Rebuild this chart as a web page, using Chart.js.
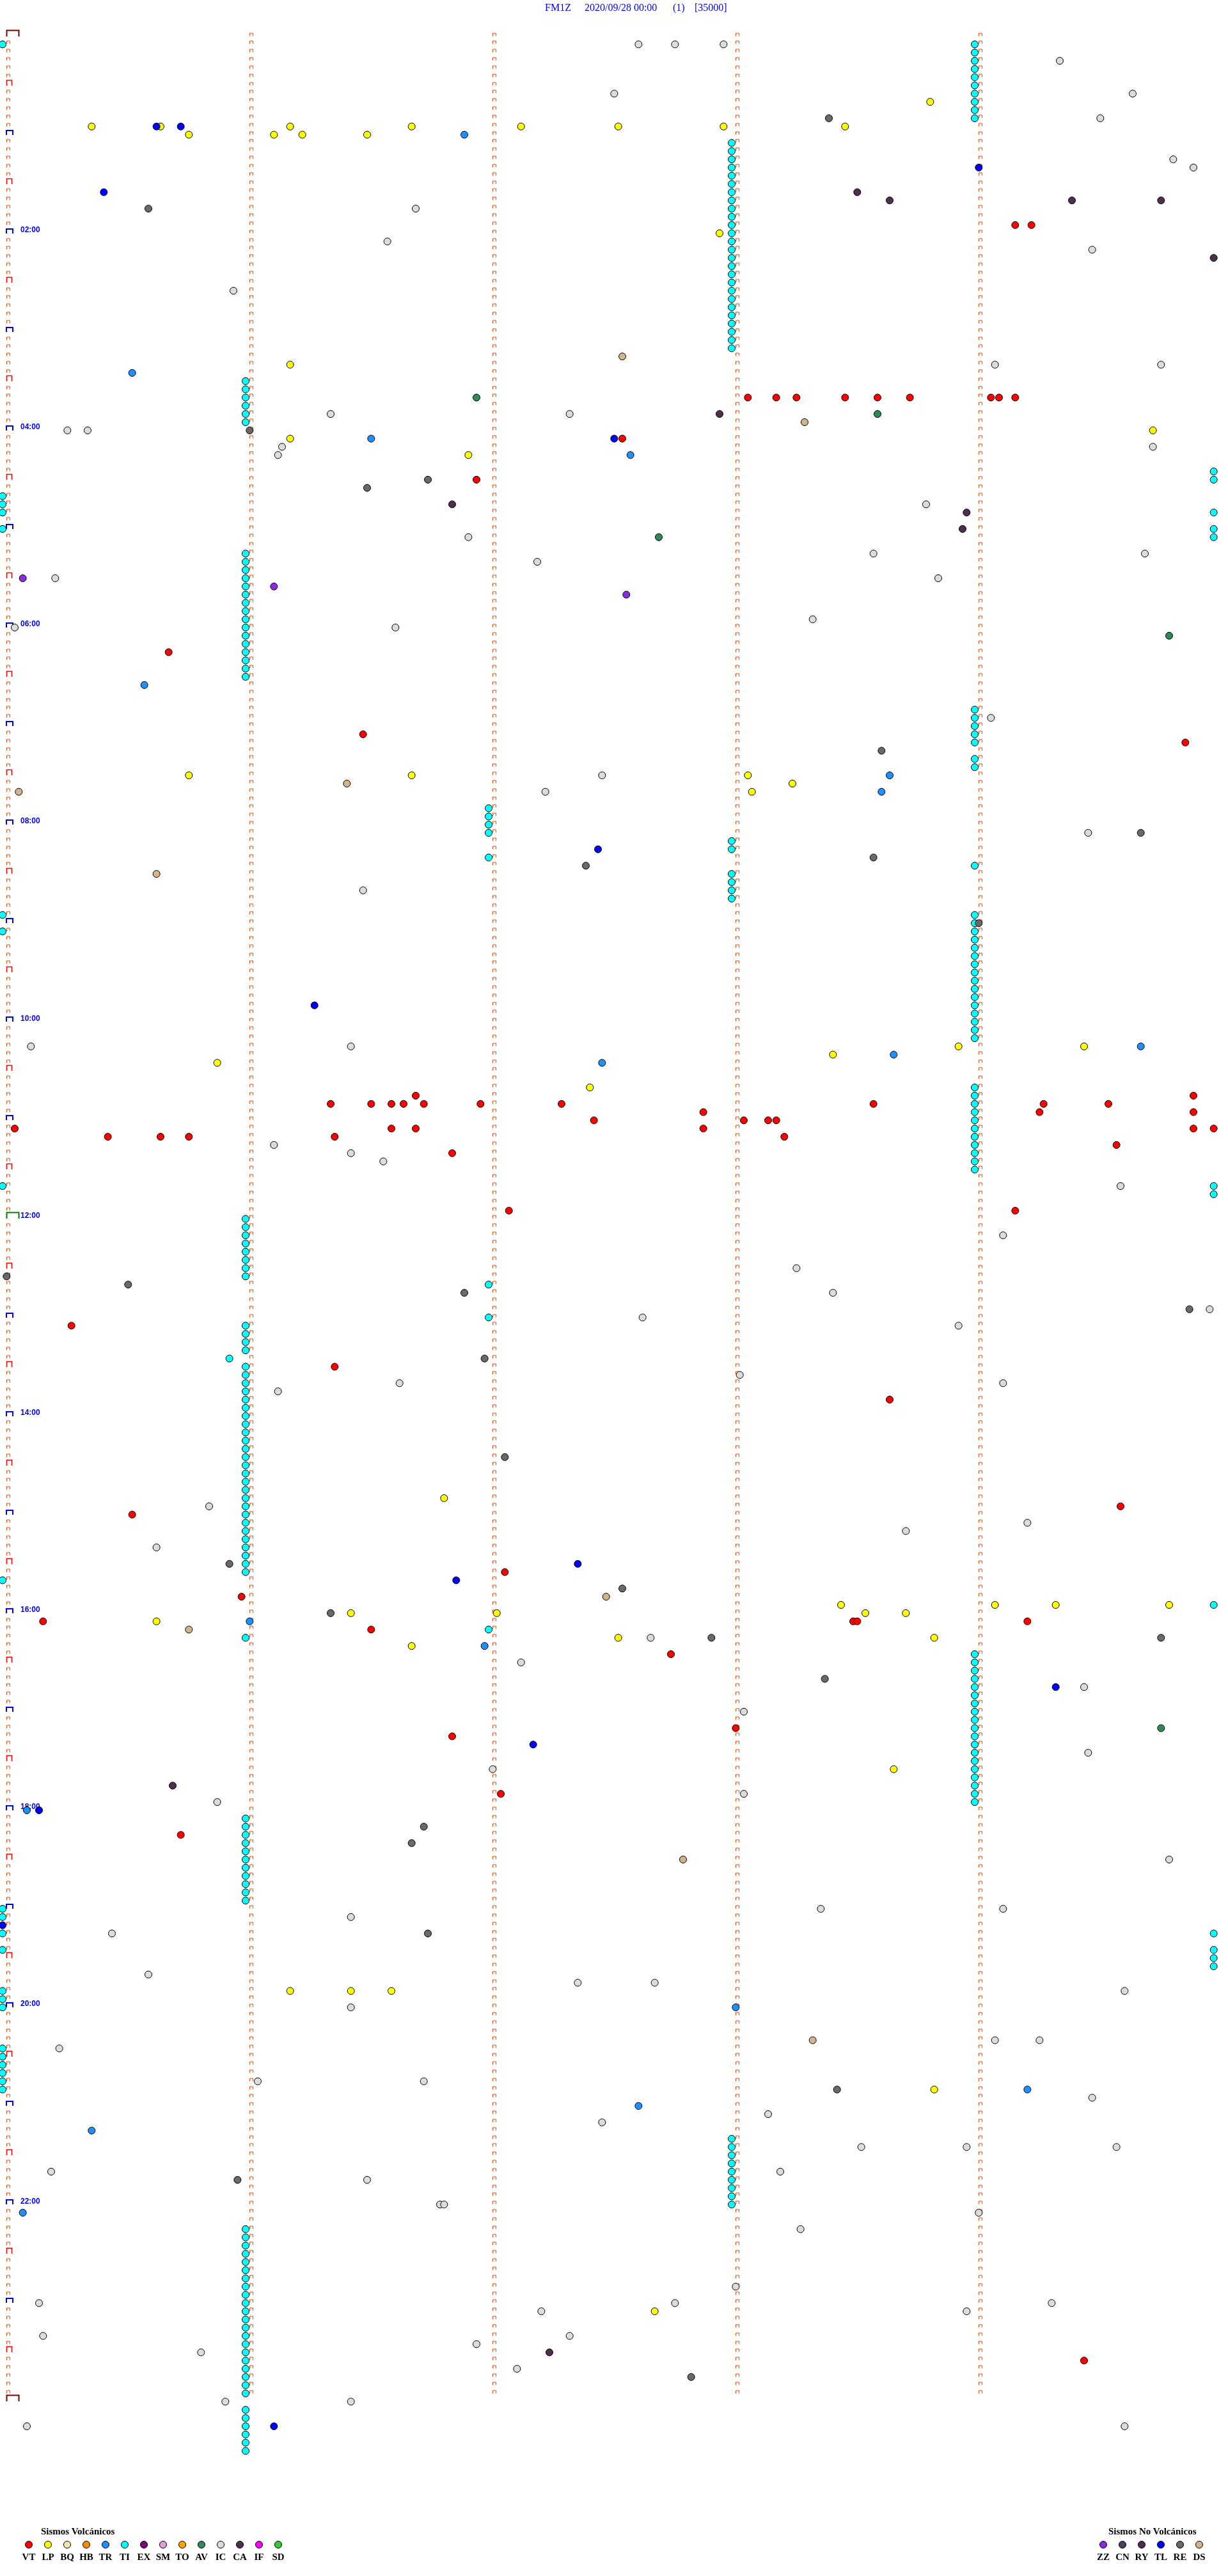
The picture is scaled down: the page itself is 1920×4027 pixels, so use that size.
<!DOCTYPE html>
<html lang="es">
<head>
<meta charset="utf-8">
<title>FM1Z 2020/09/28</title>
<script src="https://cdn.jsdelivr.net/npm/chart.js@4.4.1/dist/chart.umd.min.js"></script>
<style>
    html, body { margin: 0; padding: 0; background: #ffffff; }
    #wrap { position: relative; width: 1920px; height: 4027px; overflow: hidden; }
    #chart_events { position: absolute; left: 0; top: 0; }
    .title_part { position: absolute; top: 2px; font: 16px "Liberation Serif", serif; color: #0000ff; line-height: 20px; white-space: pre; }
    .legend_title { position: absolute; top: 3947px; font: bold 15px "Liberation Serif", serif; color: #000; line-height: 20px; white-space: nowrap; }
    .legend_dot { position: absolute; top: 3972px; width: 12px; height: 12px; box-sizing: border-box; border: 1px solid #000; border-radius: 50%; }
    .legend_code { position: absolute; top: 3988px; width: 40px; text-align: center; font: bold 15px "Liberation Serif", serif; color: #000; line-height: 18px; }
</style>
</head>
<body>
<div id="wrap">
    <canvas id="chart_events" width="1920" height="4027"></canvas>
    <span class="title_part" style="left:852px">FM1Z</span>
    <span class="title_part" style="left:914px">2020/09/28 00:00</span>
    <span class="title_part" style="left:1052px">(1)</span>
    <span class="title_part" style="left:1086px">[35000]</span>
    <div class="legend_title" style="left:64px">Sismos Volcánicos</div>
    <div class="legend_title" style="left:1733px">Sismos No Volcánicos</div>
    <div id="legend_items"></div>
</div>
<script>
// event times (HH:MM:SS), one helicorder line = 5 minutes
const eventsVT = ['01:59:10','01:59:14','03:43:04','03:43:11','03:43:16','03:43:28','03:43:36','03:43:44','03:44:04','03:44:06','03:44:10',
    '04:07:33','04:31:57','06:15:41','07:06:29','07:14:52','10:46:42','10:49:54',
    '10:51:21','10:51:31','10:51:36','10:51:39','10:51:44','10:51:58','10:52:18','10:53:35','10:54:17','10:54:33',
    '10:57:53','10:59:16','10:59:54','11:02:26','11:03:03','11:03:09','11:03:11',
    '11:05:03','11:06:36','11:06:42','11:07:53','11:09:54','11:09:59','11:10:26','11:10:39','11:10:46','11:11:22','11:13:13',
    '11:19:35','11:21:51','11:57:05','11:59:10','13:05:17','13:31:22','13:53:39','14:59:36','15:00:32','15:37:04','15:50:59',
    '16:05:10','16:08:30','16:08:31','16:09:13','16:11:31','16:27:45','17:13:01','17:16:51','17:52:03','18:15:44','23:39:27'];
const eventsLP = ['00:43:49','00:55:22','00:55:39','00:56:11','00:56:41','00:57:08','00:57:32','00:57:58','00:58:28',
    '01:00:46','01:01:07','01:01:14','01:01:30','02:02:57','03:21:11','04:04:44','04:06:11','04:16:55',
    '07:30:46','07:31:41','07:33:04','07:38:15','07:43:05','10:18:56','10:19:27','10:23:25','10:25:53','10:42:25',
    '14:51:49','15:58:27','15:59:05','15:59:20','15:59:48','16:01:26','16:02:02','16:03:33','16:03:43','16:05:38',
    '16:17:32','16:18:50','16:21:41','17:38:40','19:51:11','19:51:26','19:51:36','20:53:50','23:07:41'];
const eventsTR = ['01:01:54','03:25:32','04:06:31','04:17:35','06:35:35','07:33:39','07:43:37','10:19:41','10:23:40','10:27:28',
    '16:06:01','16:21:59','18:00:06','20:03:01','20:54:13','21:02:37','21:15:22','22:05:05'];
const eventsTI = ['00:05:00','00:09:00','00:14:00','00:19:00','00:24:00','00:29:00','00:34:00','00:39:00','00:44:00','00:49:00','00:54:00',
    '01:08:00','01:13:00','01:18:00','01:23:00','01:28:00','01:33:00','01:38:00','01:43:00','01:48:00','01:53:00','01:58:00',
    '02:03:00','02:08:00','02:13:00','02:18:00','02:23:00','02:28:00','02:33:00','02:38:00','02:43:00','02:48:00','02:53:00','02:58:00',
    '03:03:00','03:08:00','03:13:00','03:31:00','03:36:00','03:41:00','03:46:00','03:51:00','03:56:00',
    '04:29:59','04:34:59','04:40:00','04:45:00','04:50:00','04:54:59','05:00:00','05:04:59','05:09:59',
    '05:16:00','05:21:00','05:26:00','05:31:00','05:36:00','05:41:00','05:46:00','05:51:00','05:56:00',
    '06:01:00','06:06:00','06:11:00','06:16:00','06:21:00','06:26:00','06:31:00',
    '06:54:00','06:59:00','07:04:00','07:09:00','07:14:00','07:24:00','07:29:00',
    '07:52:00','07:57:00','08:02:00','08:07:00','08:22:00','08:13:00','08:18:00','08:33:00','08:38:00','08:43:00','08:48:00','08:29:00',
    '08:55:00','09:05:00','08:59:00','09:04:00','09:09:00','09:14:00','09:19:00','09:24:00','09:29:00','09:34:00','09:39:00',
    '09:44:00','09:49:00','09:54:00','09:59:00','10:04:00','10:09:00','10:14:00',
    '10:44:00','10:49:00','10:54:00','10:59:00','11:04:00','11:09:00','11:14:00','11:19:00','11:24:00','11:29:00','11:34:00',
    '11:40:00','11:44:59','11:49:59','12:01:00','12:06:00','12:11:00','12:16:00','12:21:00','12:26:00','12:31:00','12:36:00',
    '12:42:00','13:02:00','13:06:00','13:11:00','13:16:00','13:21:00','13:25:56',
    '13:31:00','13:36:00','13:41:00','13:46:00','13:51:00','13:56:00','14:01:00','14:06:00','14:11:00','14:16:00','14:21:00',
    '14:26:00','14:31:00','14:36:00','14:41:00','14:46:00','14:51:00','14:56:00','15:01:00','15:06:00','15:11:00','15:16:00',
    '15:21:00','15:26:00','15:31:00','15:36:00','15:40:00','15:59:59','16:12:00','16:16:00',
    '16:29:00','16:34:00','16:39:00','16:44:00','16:49:00','16:54:00','16:59:00','17:04:00','17:09:00','17:14:00',
    '17:19:00','17:24:00','17:29:00','17:34:00','17:39:00','17:44:00','17:49:00','17:54:00','17:59:00',
    '18:06:00','18:11:00','18:16:00','18:21:00','18:26:00','18:31:00','18:36:00','18:41:00','18:46:00','18:51:00','18:56:00',
    '19:00:00','19:05:00','19:15:00','19:25:00','19:19:59','19:29:59','19:34:59','19:39:59','19:50:00','19:55:00','20:00:00',
    '20:25:00','20:30:00','20:35:00','20:40:00','20:45:00','20:50:00',
    '21:23:00','21:28:00','21:33:00','21:38:00','21:43:00','21:48:00','21:53:00','21:58:00','22:03:00',
    '22:16:00','22:21:00','22:26:00','22:31:00','22:36:00','22:41:00','22:46:00','22:51:00','22:56:00','23:01:00','23:06:00',
    '23:11:00','23:16:00','23:21:00','23:26:00','23:31:00','23:36:00','23:41:00','23:46:00','23:51:00','23:56:00',
    '24:06:00','24:11:00','24:16:00','24:21:00','24:26:00','24:31:00'];
const eventsAV = ['03:41:57','03:53:36','05:07:42','06:09:48','17:14:46'];
const eventsIC = ['00:07:37','00:07:46','00:07:58','00:19:21','00:37:31','00:39:39','00:54:31',
    '01:19:49','01:24:54','01:46:42','02:06:35','02:14:29','02:35:57','03:24:05','03:24:46','03:51:21','03:52:20',
    '04:00:16','04:00:21','04:11:09','04:14:44','04:16:08','04:48:48','05:06:55','05:18:35','05:19:42','05:22:12',
    '05:30:13','05:33:51','05:58:20','06:00:03','06:01:37','06:59:04','07:32:28','07:42:14','08:09:28','08:41:29',
    '10:15:07','10:16:26','11:16:07','11:21:26','11:26:34','11:44:36','12:14:07','12:33:16','12:48:25','12:59:58',
    '13:02:38','13:08:56','13:38:02','13:41:38','13:44:07','13:46:08','14:55:51','15:09:13','15:13:43','15:20:38',
    '16:17:40','16:32:08','16:49:27','17:03:03','17:29:28','17:37:01','17:53:03','17:55:53','18:34:48',
    '19:03:22','19:04:07','19:06:26','19:15:27','19:40:36','19:47:22','19:47:41','19:54:37',
    '20:01:26','20:24:05','20:24:16','20:25:14','20:46:03','20:46:44','20:59:29','21:08:09','21:12:28',
    '21:28:32','21:28:58','21:29:35','21:40:12','21:43:12','21:46:30','22:01:48','22:01:49','22:09:01','22:18:17','22:53:01',
    '23:00:09','23:02:46','23:04:19','23:07:13','23:08:58','23:20:10','23:22:20','23:26:57','23:30:49','23:42:07',
    '24:00:55','24:01:26','24:15:06','24:19:37'];
const eventsCA = ['01:38:31','01:43:39','01:44:24','01:44:46','02:19:59','03:52:57','04:46:51','04:53:58','05:03:57','17:45:42','23:32:15'];
const eventsZZ = ['05:30:05','05:36:07','05:42:34'];
const eventsTL = ['00:55:38','00:55:44','01:24:01','01:35:25','04:07:31','08:17:27','09:51:17','15:32:22','15:41:52',
    '16:49:20','17:22:11','18:00:09','19:10:00','24:16:07'];
const eventsRE = ['00:53:24','01:45:36','04:01:01','04:31:45','04:36:30','07:18:37','08:09:41','08:23:35','08:27:24','09:04:01',
    '12:35:01','12:40:31','12:46:54','12:59:53','13:26:59','14:27:04','15:30:56','15:47:33','16:01:21','16:17:55','16:19:46',
    '16:43:23','18:11:44','18:21:41','19:16:45','20:53:26','21:45:58','23:47:50'];
const eventsDS = ['03:17:33','03:58:18','07:36:25','07:40:04','08:30:38','15:52:29','16:10:46','18:32:48','20:23:20'];

const hourLabels = ['02:00','04:00','06:00','08:00','10:00','12:00','14:00','16:00','18:00','20:00','22:00'];
const volcanicCodes = ['VT','LP','BQ','HB','TR','TI','EX','SM','TO','AV','IC','CA','IF','SD'];
const nonVolcanicCodes = ['ZZ','CN','RY','TL','RE','DS'];

const typeColors = {
    VT: '#ff0000', LP: '#ffff00', BQ: '#eee8aa', HB: '#ff8c00', TR: '#1e90ff', TI: '#00ffff', EX: '#800080',
    SM: '#dda0dd', TO: '#ffa500', AV: '#2e8b57', IC: '#dcdcdc', CA: '#4e2f4e', IF: '#ff00ff', SD: '#32cd32',
    ZZ: '#8a2be2', CN: '#4a3f5c', RY: '#4b2d50', TL: '#0000ff', RE: '#696969', DS: '#d2b48c'
};

const seriesList = [['VT', eventsVT], ['LP', eventsLP], ['TR', eventsTR], ['TI', eventsTI], ['AV', eventsAV], ['IC', eventsIC],
    ['CA', eventsCA], ['ZZ', eventsZZ], ['TL', eventsTL], ['RE', eventsRE], ['DS', eventsDS]];

const lineSeconds = 300;
const rowPx = 12.84;
const firstRowPx = 56.5;
const canvasHeight = 4027;

function toPoint(t) {
    const parts = t.split(':').map(Number);
    const sec = parts[0] * 3600 + parts[1] * 60 + (parts[2] || 0);
    const row = Math.floor(sec / lineSeconds);
    return { x: (sec - row * lineSeconds) / 60, y: row };
}

const hourRows = hourLabels.map(l => toPoint(l).y);
const lastRow = toPoint('24:00').y;

function drawMark(ctx, x, y, w, h, lw, color) {
    ctx.strokeStyle = color;
    ctx.lineWidth = lw;
    ctx.beginPath();
    ctx.moveTo(x, y);
    ctx.lineTo(x, y - h);
    ctx.lineTo(x + w, y - h);
    ctx.lineTo(x + w, y);
    ctx.stroke();
}

// minute marks on every line, hour labels on the left
const lineMarks = {
    id: 'lineMarks',
    beforeDatasetsDraw(chart) {
        const ctx = chart.ctx;
        const xs = chart.scales.x;
        const ys = chart.scales.y;
        ctx.save();
        for (let r = 0; r <= lastRow; r++) {
            const yc = Math.round(ys.getPixelForValue(r));
            for (let c = 0; c < 5; c++) {
                const px = Math.round(xs.getPixelForValue(c));
                if (c === 0 && r % 6 === 0) {
                    if (r % 144 === 0) {
                        drawMark(ctx, px + 6.5, yc, 19, 9.5, 2, r === 144 ? '#008000' : '#800000');
                    } else if (r % 12 === 0) {
                        drawMark(ctx, px + 6, yc, 10, 7, 2, '#0000ff');
                    } else {
                        drawMark(ctx, px + 6.5, yc, 8, 8.5, 1.5, '#ff0000');
                    }
                } else if (r < lastRow) {
                    drawMark(ctx, px + 6.5, yc - 0.5, 5, 4.5, 1, '#ff4500');
                }
            }
        }
        ctx.font = 'bold 12px "Liberation Sans", Arial, sans-serif';
        ctx.fillStyle = '#0000ff';
        ctx.textAlign = 'left';
        ctx.textBaseline = 'middle';
        const lx = xs.getPixelForValue(0) + 28;
        hourLabels.forEach((lbl, i) => {
            ctx.fillText(lbl, lx, ys.getPixelForValue(hourRows[i]) - 5);
        });
        ctx.restore();
    }
};

new Chart(document.getElementById('chart_events'), {
    type: 'scatter',
    data: {
        datasets: seriesList.map((s, i) => ({
            label: s[0],
            data: s[1].map(toPoint),
            backgroundColor: typeColors[s[0]],
            borderColor: '#000000',
            borderWidth: 1,
            pointRadius: 5.5,
            pointHoverRadius: 5.5,
            clip: false,
            order: seriesList.length - i
        }))
    },
    options: {
        responsive: false,
        animation: false,
        events: [],
        layout: { autoPadding: false, padding: { left: 4, right: 16, top: 0, bottom: 0 } },
        plugins: { legend: { display: false }, tooltip: { enabled: false } },
        scales: {
            x: { type: 'linear', min: 0, max: 5, display: false },
            y: {
                type: 'linear',
                reverse: true,
                display: false,
                min: -firstRowPx / rowPx,
                max: (canvasHeight - firstRowPx) / rowPx
            }
        }
    },
    plugins: [lineMarks]
});

function addLegend(codes, firstX) {
    const box = document.getElementById('legend_items');
    codes.forEach((code, i) => {
        const cx = firstX + i * 30;
        const dot = document.createElement('div');
        dot.className = 'legend_dot';
        dot.style.left = (cx - 6) + 'px';
        dot.style.backgroundColor = typeColors[code];
        box.appendChild(dot);
        const lbl = document.createElement('div');
        lbl.className = 'legend_code';
        lbl.style.left = (cx - 20) + 'px';
        lbl.textContent = code;
        box.appendChild(lbl);
    });
}
addLegend(volcanicCodes, 45);
addLegend(nonVolcanicCodes, 1725);
</script>
</body>
</html>
